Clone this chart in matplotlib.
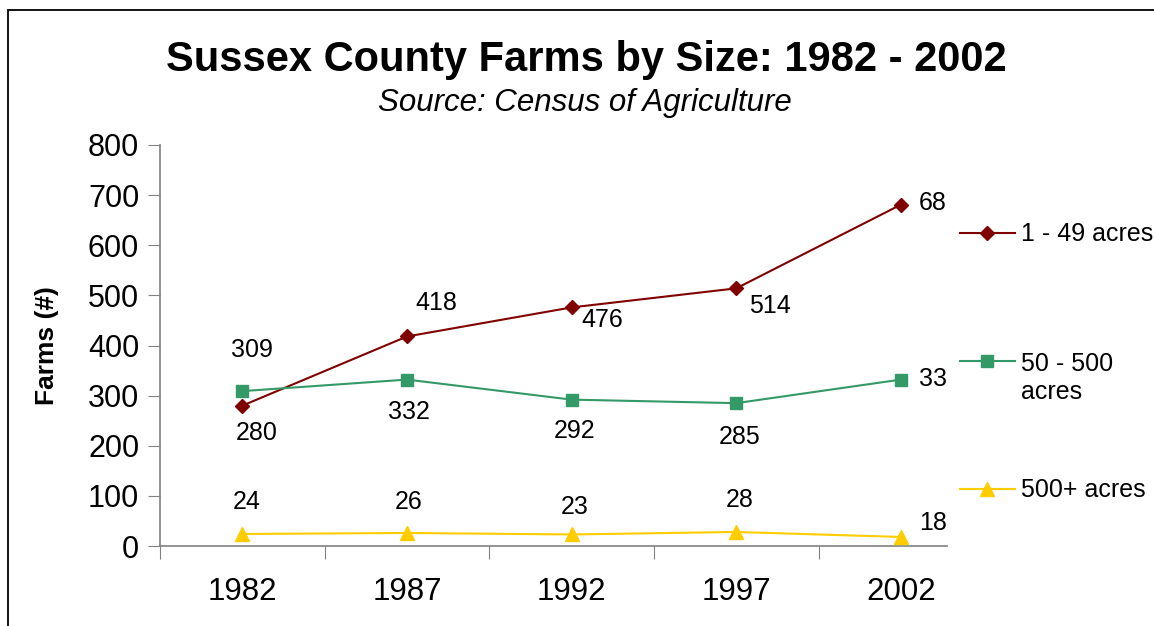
"""Sussex County farms by size, 1982 - 2002."""

from matplotlib import pyplot as plt
from matplotlib.lines import Line2D
from matplotlib.patches import Rectangle

plt.rcParams["font.family"] = ["Liberation Sans", "DejaVu Sans"]

# * -------------------------------------------------------------------------------- * #
# * DATA

years = ["1982", "1987", "1992", "1997", "2002"]
small_farms = [280, 418, 476, 514, 681]  # 1 - 49 acres
medium_farms = [309, 332, 292, 285, 332]  # 50 - 500 acres
large_farms = [24, 26, 23, 28, 18]  # 500+ acres
series_names = ["1 - 49 acres", "50 - 500\nacres", "500+ acres"]

# * -------------------------------------------------------------------------------- * #
# * STYLE

colors = ["#800000", "#339966", "#FFCC00"]
markers = ["D", "s", "^"]
marker_sizes = [7, 8, 10]
# Label offsets in pixels, one list per series
label_offsets = [
    [(14, -27), (29, 33), (31, -13), (34, -18), (18, 2)],
    [(10, 41), (2, -32), (3, -31), (3, -34), (18, 1)],
    [(4, 32), (2, 31), (3, 27), (3, 32), (18, 14)],
]
legend_y = [233, 361, 489]  # pixel rows from the top
legend_fontsize = 18

W, H = 1154, 626
fig = plt.figure(figsize=(W / 100, H / 100), dpi=100)
ax = fig.add_axes((160 / W, 1 - 546 / H, (947 - 160) / W, (546 - 145) / H))

# Outer chart frame (right and bottom edges fall outside the image)
fig.add_artist(
    Rectangle(
        (8 / W, -0.2),
        1.2,
        1.2 - 10 / H,
        transform=fig.transFigure,
        fill=False,
        edgecolor="black",
        linewidth=1.3,
    )
)

x = list(range(len(years)))
all_series = [small_farms, medium_farms, large_farms]
for values, color, marker, ms, offsets in zip(
    all_series, colors, markers, marker_sizes, label_offsets
):
    ax.plot(x, values, color=color, marker=marker, markersize=ms, linewidth=1.5,
            clip_on=False, zorder=3)
    for i, (xi, v) in enumerate(zip(x, values)):
        last = i == len(values) - 1
        ax.annotate(
            f"{v}",
            (xi, v),
            xytext=offsets[i],
            textcoords="offset pixels",
            ha="left" if last else "center",
            va="center",
            fontsize=18,
            clip_on=True,  # The last labels get cut at the plot edge
            annotation_clip=False,
        )

# Axes
ax.set_xlim(-0.5, 4.28)
ax.set_ylim(0, 800)
ax.set_yticks(range(0, 801, 100))
ax.set_xticks([i - 0.5 for i in range(len(years))])
ax.set_xticklabels([])
ax.set_xticks(x, years, minor=True)
ax.tick_params(axis="x", which="minor", length=0, labelsize=22.5, pad=22)
ax.tick_params(axis="x", which="major", length=9, color="#808080", direction="out")
ax.tick_params(axis="y", labelsize=22, length=9, color="#808080", pad=6)
for side in ["top", "right"]:
    ax.spines[side].set_visible(False)
for side in ["left", "bottom"]:
    ax.spines[side].set_color("#808080")
    ax.spines[side].set_linewidth(1.2)
ax.set_ylabel("Farms (#)", fontsize=19, fontweight="bold", labelpad=21)

# Titles
fig.text(586 / W, 1 - 60 / H, "Sussex County Farms by Size: 1982 - 2002",
         ha="center", va="center", fontsize=30, fontweight="bold")
fig.text(585 / W, 1 - 103 / H, "Source: Census of Agriculture",
         ha="center", va="center", fontsize=22.5, style="italic")

# Legend (handle lines up with the first text line)
line_px = 1.2 * legend_fontsize * 100 / 72
for name, color, marker, ms, y in zip(series_names, colors, markers, marker_sizes, legend_y):
    yf = 1 - y / H
    fig.add_artist(Line2D([960 / W, 1015 / W], [yf, yf], transform=fig.transFigure,
                          color=color, linewidth=1.5))
    fig.add_artist(Line2D([987 / W], [yf], transform=fig.transFigure, color=color,
                          marker=marker, markersize=ms))
    n_extra = name.count("\n")
    fig.text(1021 / W, 1 - (y + 8 + n_extra * line_px) / H, name, ha="left",
             va="baseline", fontsize=legend_fontsize, linespacing=1.2)

fig.savefig("out.png", dpi=100)
